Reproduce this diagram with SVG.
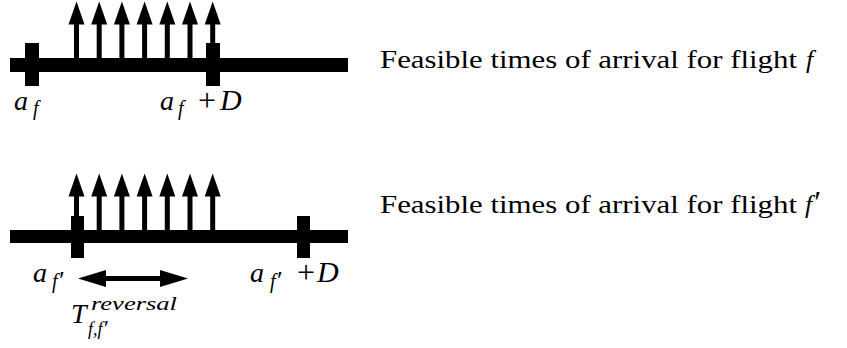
<svg xmlns="http://www.w3.org/2000/svg" width="847" height="348" viewBox="0 0 847 348">
<style>
.bar{fill:#000}
.t{font-family:"Liberation Serif",serif;font-size:26px;fill:#000}
.m{font-family:"Liberation Serif",serif;font-style:italic;fill:#000}
.r{font-family:"Liberation Serif",serif;fill:#000}
</style>
<defs>
<path id="up" d="M0,0 L8,23 L2.5,23 L2.5,57 L-2.5,57 L-2.5,23 L-8,23 Z" fill="#000"/>
</defs>
<g id="timeline-f">
<rect class="bar" x="10" y="58" width="338" height="14"/>
<rect class="bar" x="25" y="43" width="14" height="43"/>
<rect class="bar" x="206" y="43" width="14" height="43"/>
</g>
<g id="timeline-fp">
<rect class="bar" x="10" y="230" width="338" height="13"/>
<rect class="bar" x="71" y="216" width="13" height="42"/>
<rect class="bar" x="297" y="216" width="13" height="42"/>
</g>
<g id="connectors">
<use href="#up" x="76.5" y="1.5"/>
<use href="#up" x="99.2" y="1.5"/>
<use href="#up" x="121.9" y="1.5"/>
<use href="#up" x="144.6" y="1.5"/>
<use href="#up" x="167.3" y="1.5"/>
<use href="#up" x="190" y="1.5"/>
<use href="#up" x="212.7" y="1.5"/>
<use href="#up" x="76.5" y="173.5"/>
<use href="#up" x="99.2" y="173.5"/>
<use href="#up" x="121.9" y="173.5"/>
<use href="#up" x="144.6" y="173.5"/>
<use href="#up" x="167.3" y="173.5"/>
<use href="#up" x="190" y="173.5"/>
<use href="#up" x="212.7" y="173.5"/>
<path d="M78,278.5 L106,270 L106,276 L160,276 L160,270 L188,278.5 L160,287 L160,281 L106,281 L106,287 Z" fill="#000"/>
</g>
<g id="labels">
<text class="m" x="14" y="110" font-size="28">a</text>
<text class="m" x="33" y="115" font-size="20">f</text>
<text class="m" x="160" y="110" font-size="28">a</text>
<text class="m" x="178" y="115" font-size="20">f</text>
<text class="r" x="198" y="111" font-size="32">+</text>
<text class="m" x="220" y="110" font-size="30">D</text>
<text class="m" x="33" y="282" font-size="28">a</text>
<text class="m" x="52" y="288" font-size="20">f<tspan font-size="26" dy="1">′</tspan></text>
<text class="m" x="250" y="282" font-size="28">a</text>
<text class="m" x="270" y="288" font-size="20">f<tspan font-size="26" dy="1">′</tspan></text>
<text class="r" x="297" y="283" font-size="32">+</text>
<text class="m" x="317" y="282" font-size="30">D</text>
<text class="m" x="71" y="323" font-size="28">T</text>
<text class="m" x="91" y="310" font-size="18" textLength="86" lengthAdjust="spacingAndGlyphs">reversal</text>
<text class="m" x="88" y="335" font-size="18">f,f<tspan font-size="23" dy="1">′</tspan></text>
</g>
<g id="captions">
<text class="t" x="380" y="68" textLength="417" lengthAdjust="spacingAndGlyphs">Feasible times of arrival for flight</text>
<text class="t" x="806" y="68" font-style="italic">f</text>
<text class="t" x="380" y="213" textLength="417" lengthAdjust="spacingAndGlyphs">Feasible times of arrival for flight</text>
<text class="t" x="805" y="213" font-style="italic">f<tspan font-size="32">′</tspan></text>
</g>
</svg>
